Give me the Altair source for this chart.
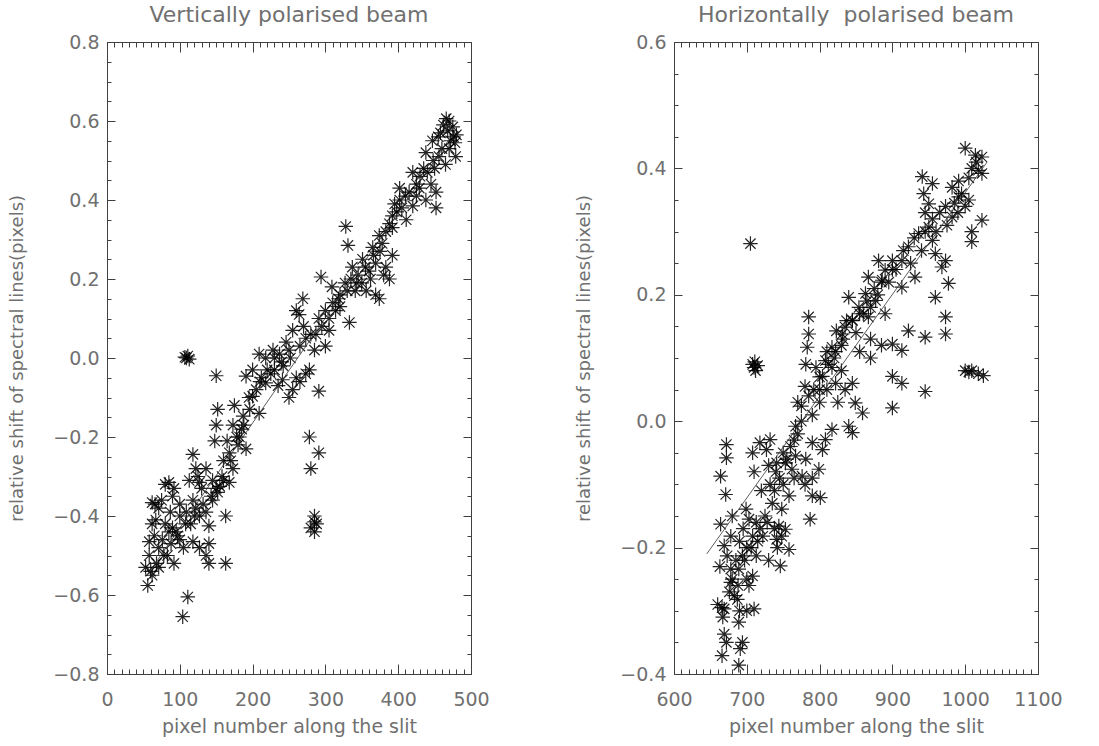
import altair as alt
import pandas as pd
import numpy as np

# ---------------- data ----------------
left_x = [466, 475, 470, 462, 480, 478, 472, 447, 455, 438, 456, 470, 479, 465, 450, 440, 430, 420,
          402, 429, 438, 452, 452, 445, 425, 415, 392, 402, 411, 383, 374, 392, 405, 420, 395,
          328, 331, 365, 351, 337, 369, 383, 388, 392, 375, 360, 345,
          294, 309, 327, 341, 356, 369, 374, 320, 335, 350, 362, 380,
          333, 314, 305, 300, 291, 287, 273, 310, 300, 320,
          269, 260, 264, 255, 246, 237, 228, 218, 209, 278, 285, 270, 250, 242, 230,
          109, 111, 113, 107, 150, 152, 150, 148,
          191, 218, 241, 255, 273, 291, 200, 209, 187, 173, 182, 191, 168, 173, 168, 155, 145,
          136, 122, 118, 113, 127, 225, 235, 210, 200, 195, 185, 178, 165, 160, 175, 260, 250, 265,
          278, 291, 280, 285, 285, 285, 280, 288,
          163, 163, 140, 136, 127, 118, 109, 100, 90, 92, 71, 71, 62, 56, 53, 58, 62, 80, 85, 67,
          80, 90, 100, 127, 136, 140, 111, 104, 71, 76, 100, 122, 58, 65, 83, 87, 95, 115, 130,
          145, 150, 158, 140, 62, 75,
          458, 468, 476, 460, 448, 435, 425, 410, 398, 388, 378, 366, 355, 343, 330, 318, 305, 295,
          280, 265, 252, 240, 230, 220, 212, 205, 196, 188, 180, 170, 160, 152, 143, 132, 120, 108,
          97, 88, 78, 68, 60, 66, 92, 125, 118, 105, 85]
left_y = [0.606, 0.585, 0.60, 0.59, 0.565, 0.545, 0.55, 0.55, 0.56, 0.52, 0.51, 0.53, 0.51, 0.49, 0.48,
          0.47, 0.46, 0.47, 0.43, 0.43, 0.40, 0.38, 0.42, 0.44, 0.41, 0.42, 0.36, 0.40, 0.35, 0.32,
          0.31, 0.33, 0.38, 0.385, 0.39,
          0.333, 0.285, 0.28, 0.25, 0.23, 0.24, 0.23, 0.20, 0.26, 0.27, 0.22, 0.21,
          0.205, 0.18, 0.19, 0.17, 0.17, 0.16, 0.15, 0.16, 0.20, 0.19, 0.20, 0.21,
          0.09, 0.12, 0.07, 0.03, 0.10, 0.06, 0.05, 0.14, 0.12, 0.13,
          0.15, 0.12, 0.11, 0.07, 0.04, 0.01, 0.02, 0.00, 0.01, -0.03, 0.02, 0.08, 0.02, -0.02, -0.03,
          0.0, 0.005, -0.003, 0.002, -0.045, -0.13, -0.17, -0.21,
          -0.046, -0.063, -0.055, -0.08, -0.04, -0.084, -0.097, -0.14, -0.147, -0.17, -0.20, -0.23,
          -0.24, -0.28, -0.315, -0.325, -0.31,
          -0.28, -0.28, -0.244, -0.31, -0.315, -0.04, -0.07, -0.06, -0.03, -0.10, -0.18, -0.20, -0.21,
          -0.26, -0.12, -0.05, -0.10, -0.06,
          -0.20, -0.24, -0.28, -0.40, -0.415, -0.44, -0.43, -0.42,
          -0.40, -0.52, -0.52, -0.50, -0.48, -0.465, -0.39, -0.40, -0.43, -0.52, -0.48, -0.53, -0.55,
          -0.576, -0.53, -0.465, -0.366, -0.32, -0.315, -0.41,
          -0.42, -0.35, -0.37, -0.40, -0.39, -0.425, -0.605, -0.655, -0.38, -0.46, -0.46, -0.38, -0.50,
          -0.45, -0.50, -0.39, -0.44, -0.42, -0.33,
          -0.36, -0.33, -0.30, -0.47, -0.42, -0.36,
          0.57, 0.575, 0.56, 0.53, 0.50, 0.48, 0.44, 0.41, 0.37, 0.34, 0.29, 0.26, 0.23, 0.19, 0.17,
          0.15, 0.10, 0.08, 0.06, 0.03, 0.00, -0.01, 0.00, -0.03, -0.05, -0.08, -0.13, -0.17, -0.22,
          -0.26, -0.31, -0.34, -0.35, -0.37, -0.40, -0.42, -0.45, -0.47, -0.50, -0.52, -0.54, -0.37,
          -0.33, -0.30, -0.36, -0.48, -0.44]
left_fit_x = [55, 480]
left_fit_y = [-0.55, 0.58]

right_x = [705, 708, 710, 712, 715, 711, 1000, 1014, 1023, 1018, 1023, 1009, 991, 982, 991, 1005, 1000,
           1023, 1009, 1009, 982, 973, 941, 955, 943, 950, 945, 950, 936, 955, 922, 913, 900, 890,
           881, 886, 913, 931, 959, 973, 968, 977, 959, 867, 863, 877, 854, 867, 845, 835, 831, 840,
           837, 823, 817, 808, 817, 795, 785, 785, 783, 781, 900, 913, 945, 973, 973, 922,
           1009, 1018, 1000, 1005, 1025, 900, 913, 945, 900,
           780, 775, 804, 822, 849, 845, 859, 840, 817, 808, 804, 790, 781, 799, 790, 801, 787, 776,
           767, 767, 762, 753, 758, 748, 744, 753, 748, 758, 746, 741, 732, 727, 732, 741,
           672, 672, 664, 671, 664, 678, 669, 673, 678, 678, 683, 666, 669, 669, 666, 687, 689, 694,
           691, 689, 699, 703, 708, 713, 722, 713, 708, 710, 703, 694, 689, 718,
           820, 830, 850, 860, 870, 880, 895, 905, 925, 940, 960, 975, 990, 830, 810, 800, 790, 770,
           760, 750, 740, 730, 790, 780, 765, 800, 810, 825, 835, 855, 890, 870,
           700, 695, 685, 680, 690, 700, 680, 715, 725, 735, 708, 710, 720, 730, 750, 770, 845, 870, 885,
           1015, 1005, 995, 985, 965, 955, 945, 930, 915, 900, 885, 875, 865, 855, 845, 832, 822, 812,
           800, 792, 785, 775, 765, 755, 745, 738, 728, 718, 706, 697, 688, 676, 667, 672, 700, 660,
           663, 690, 742, 738]
right_y = [0.281, 0.09, 0.085, 0.08, 0.088, 0.094, 0.432, 0.421, 0.418, 0.397, 0.392, 0.40, 0.38, 0.37,
           0.355, 0.35, 0.34, 0.318, 0.30, 0.284, 0.323, 0.34, 0.387, 0.376, 0.36, 0.344, 0.33, 0.307,
           0.297, 0.286, 0.276, 0.254, 0.254, 0.239, 0.254, 0.223, 0.212, 0.228, 0.265, 0.254, 0.244,
           0.218, 0.196, 0.228, 0.202, 0.191, 0.180, 0.165, 0.159, 0.149, 0.138, 0.196, 0.159, 0.143,
           0.117, 0.096, 0.085, 0.085, 0.165, 0.138, 0.117, 0.09, 0.122, 0.112, 0.133, 0.138, 0.165,
           0.143, 0.08, 0.075, 0.08, 0.078, 0.072, 0.071, 0.06, 0.047, 0.021,
           0.055, 0.024, 0.071, 0.06, 0.029, -0.018, 0.013, -0.008, -0.013, -0.029, -0.045, -0.034,
           -0.06, -0.076, -0.118, -0.121, -0.155, -0.087, -0.055, -0.008, -0.076, -0.066, -0.118,
           -0.139, -0.166, -0.171, -0.182, -0.203, -0.229, -0.187, -0.10, -0.045, -0.029, -0.066,
           -0.037, -0.058, -0.087, -0.116, -0.163, -0.182, -0.197, -0.213, -0.234, -0.255, -0.276,
           -0.295, -0.297, -0.337, -0.371, -0.282, -0.318, -0.35, -0.36, -0.386, -0.139, -0.155,
           -0.182, -0.16, -0.182, -0.213, -0.245, -0.297, -0.26, -0.213, -0.234, -0.034,
           0.10, 0.12, 0.14, 0.17, 0.18, 0.20, 0.22, 0.24, 0.25, 0.27, 0.30, 0.31, 0.33, 0.08, 0.05,
           0.03, 0.01, -0.02, -0.04, -0.05, -0.08, -0.07, -0.09, -0.10, -0.09, 0.05, 0.11, 0.03, 0.05,
           0.11, 0.17, 0.13,
           -0.20, -0.17, -0.22, -0.15, -0.19, -0.25, -0.25, -0.19, -0.15, -0.13, -0.05, -0.08, -0.11,
           -0.22, -0.10, 0.03, 0.06, 0.10, 0.12,
           0.41, 0.385, 0.36, 0.345, 0.33, 0.32, 0.30, 0.29, 0.27, 0.24, 0.22, 0.21, 0.19, 0.17, 0.16,
           0.13, 0.11, 0.09, 0.07, 0.05, 0.04, 0.00, -0.03, -0.06, -0.09, -0.11, -0.16, -0.17, -0.20,
           -0.22, -0.26, -0.27, -0.31, -0.35, -0.30, -0.29, -0.23, -0.30, -0.20, -0.17]
right_fit_x = [645, 1030]
right_fit_y = [-0.21, 0.41]

titles = ["Vertically polarised beam", "Horizontally\u00a0 polarised beam"]
x_title = "pixel number along the slit"
y_title = "relative shift of spectral lines(pixels)"

# ---------------- styling ----------------
W, H = 364, 632
FONT = "DejaVu Sans"
TXT = "#707070"
AX = "#404040"
AST = "M0,-1L0,1M-1,0L1,0M-0.71,-0.71L0.71,0.71M-0.71,0.71L0.71,-0.71"


def panel(xs, ys, fx, fy, xdom, ydom, title):
    df = pd.DataFrame({"x": xs, "y": ys})
    fdf = pd.DataFrame({"x": fx, "y": fy})
    xs_ = alt.Scale(domain=xdom, nice=False, zero=False)
    ys_ = alt.Scale(domain=ydom, nice=False, zero=False)
    xmaj = list(range(xdom[0], xdom[1] + 1, 100))
    xmin = list(range(xdom[0], xdom[1] + 1, 10))
    ymaj = [round(v, 2) for v in np.arange(ydom[0], ydom[1] + 1e-9, 0.2)]
    ymin = [round(v, 2) for v in np.arange(ydom[0], ydom[1] + 1e-9, 0.05)]

    def tick_axis(orient, vals, size, off):
        return alt.Axis(orient=orient, values=vals, tickSize=size, labels=False, domain=False,
                        grid=False, title=None, offset=off, tickColor=AX, tickWidth=1)

    pts = alt.Chart(df).mark_point(shape=AST, size=210, filled=False, stroke="black",
                                   strokeWidth=1.2, opacity=0.85).encode(
        x=alt.X("x:Q", scale=xs_, axis=alt.Axis(
            orient="bottom", values=xmaj, format="d", ticks=False, domain=True, grid=False,
            domainColor=AX, labelFont=FONT, labelFontSize=19, labelColor=TXT, labelPadding=16,
            labelFlush=False, labelOverlap=False,
            title=x_title, titleFont=FONT, titleFontSize=19, titleColor=TXT,
            titleFontWeight="normal", titlePadding=8)),
        y=alt.Y("y:Q", scale=ys_, axis=alt.Axis(
            orient="left", values=ymaj, format=".1f", ticks=False, domain=True, grid=False,
            domainColor=AX, labelFont=FONT, labelFontSize=19, labelColor=TXT, labelPadding=8,
            labelFlush=False, labelOverlap=False,
            title=y_title, titleFont=FONT, titleFontSize=18, titleColor=TXT,
            titleFontWeight="normal", titlePadding=26)),
    )
    fit = alt.Chart(fdf).mark_line(color="#333333", strokeWidth=0.8).encode(
        x=alt.X("x:Q", scale=xs_, axis=alt.Axis(orient="top", labels=False, ticks=False,
                                                 domain=True, domainColor=AX, grid=False, title=None)),
        y=alt.Y("y:Q", scale=ys_, axis=alt.Axis(orient="right", labels=False, ticks=False,
                                                 domain=True, domainColor=AX, grid=False, title=None)),
    )
    hid = alt.Chart(fdf).mark_point(opacity=0)
    # inward ticks at bottom / left edges
    t1 = hid.encode(x=alt.X("x:Q", scale=xs_, axis=tick_axis("top", xmaj, 10, -H)),
                    y=alt.Y("y:Q", scale=ys_, axis=tick_axis("right", ymaj, 8, -W)))
    t2 = hid.encode(x=alt.X("x:Q", scale=xs_, axis=tick_axis("top", xmin, 5, -H)),
                    y=alt.Y("y:Q", scale=ys_, axis=tick_axis("right", ymin, 4, -W)))
    # inward ticks at top / right edges
    t3 = hid.encode(x=alt.X("x:Q", scale=xs_, axis=tick_axis("bottom", xmaj, 10, -H)),
                    y=alt.Y("y:Q", scale=ys_, axis=tick_axis("left", ymaj, 8, -W)))
    t4 = hid.encode(x=alt.X("x:Q", scale=xs_, axis=tick_axis("bottom", xmin, 5, -H)),
                    y=alt.Y("y:Q", scale=ys_, axis=tick_axis("left", ymin, 4, -W)))
    return alt.layer(pts, fit, t1, t2, t3, t4).resolve_axis(
        x="independent", y="independent").properties(
        width=W, height=H,
        title=alt.TitleParams(title, font=FONT, fontSize=22, color=TXT, fontWeight="normal",
                              offset=6))


left = panel(left_x, left_y, left_fit_x, left_fit_y, [0, 500], [-0.8, 0.8], titles[0])
right = panel(right_x, right_y, right_fit_x, right_fit_y, [600, 1100], [-0.4, 0.6], titles[1])

chart = alt.hconcat(left, right, spacing=203, bounds="flush").properties(
    padding={"left": 8, "top": 4, "right": 5, "bottom": 5},
    background="white",
).configure_view(stroke=None)

chart.save("out.html", embed_options={"renderer": "svg", "actions": False})
